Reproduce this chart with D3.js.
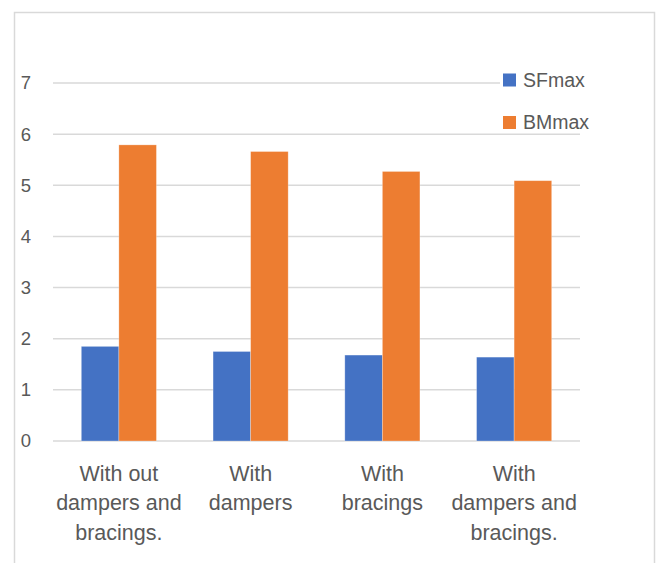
<!DOCTYPE html>
<html>
<head>
<meta charset="utf-8">
<script src="https://cdn.jsdelivr.net/npm/d3@7"></script>
<style>
  html, body { margin: 0; padding: 0; background: #fff; }
  svg { display: block; }
  text { font-family: "Liberation Sans", Arial, sans-serif; fill: #595959; }
</style>
</head>
<body>
<svg id="chart" width="661" height="563"></svg>
<script>
// Categories (each entry is split onto its display lines)
const categories = [
  ["With out", "dampers and", "bracings."],
  ["With", "dampers"],
  ["With", "bracings"],
  ["With", "dampers and", "bracings."]
];
const seriesNames = ["SFmax", "BMmax"];
const sfmax = [1.85, 1.75, 1.68, 1.64];
const bmmax = [5.79, 5.66, 5.27, 5.09];
const yTicks = [0, 1, 2, 3, 4, 5, 6, 7];
const colors = ["#4472C4", "#ED7D31"];

const svg = d3.select("#chart");

// Chart area outline
svg.append("rect")
  .attr("x", 14.5).attr("y", 12.5)
  .attr("width", 640).attr("height", 570)
  .attr("fill", "none").attr("stroke", "#d9d9d9").attr("stroke-width", 1.5);

const plot = { left: 53, right: 580, top: 83, bottom: 441 };

const x0 = d3.scaleBand()
  .domain(d3.range(categories.length))
  .range([plot.left, plot.right])
  .paddingInner(0.43)
  .paddingOuter(0.215);

const x1 = d3.scaleBand()
  .domain(d3.range(seriesNames.length))
  .range([0, x0.bandwidth()]);

const y = d3.scaleLinear().domain([0, 7]).range([plot.bottom, plot.top]);

// Horizontal gridlines
svg.append("g")
  .selectAll("line")
  .data(yTicks)
  .join("line")
  .attr("x1", plot.left).attr("x2", plot.right)
  .attr("y1", d => y(d)).attr("y2", d => y(d))
  .attr("stroke", "#d9d9d9").attr("stroke-width", 1.5);

// Y tick labels
svg.append("g")
  .selectAll("text")
  .data(yTicks)
  .join("text")
  .attr("x", 31)
  .attr("y", d => y(d))
  .attr("dy", "0.35em")
  .attr("text-anchor", "end")
  .style("font-size", "18.5px")
  .text(d => d);

// Bars
const seriesValues = [sfmax, bmmax];
const groups = svg.append("g")
  .selectAll("g")
  .data(categories.map((c, i) => i))
  .join("g")
  .attr("transform", i => `translate(${x0(i)},0)`);

groups.selectAll("rect")
  .data(i => seriesValues.map((vals, s) => ({ s, v: vals[i] })))
  .join("rect")
  .attr("x", d => x1(d.s))
  .attr("width", x1.bandwidth())
  .attr("y", d => y(d.v))
  .attr("height", d => y(0) - y(d.v))
  .attr("fill", d => colors[d.s])
  .attr("stroke", "#ffffff")
  .attr("stroke-opacity", 0.35)
  .attr("stroke-width", 0.75);

// Category labels
const catLabels = svg.append("g")
  .selectAll("text")
  .data(categories)
  .join("text")
  .attr("text-anchor", "middle")
  .attr("x", (d, i) => x0(i) + x0.bandwidth() / 2)
  .attr("y", 480.5)
  .style("font-size", "21.5px");

catLabels.selectAll("tspan")
  .data(d => d)
  .join("tspan")
  .attr("x", function () { return d3.select(this.parentNode).attr("x"); })
  .attr("dy", (d, i) => i === 0 ? 0 : 29.5)
  .text(d => d);

// Legend (white backing hides the top gridline under the entries)
const legend = svg.append("g");
legend.append("rect")
  .attr("x", 500).attr("y", 66).attr("width", 95).attr("height", 65)
  .attr("fill", "#fff");

const items = legend.selectAll("g")
  .data(seriesNames)
  .join("g")
  .attr("transform", (d, i) => `translate(503,${80 + i * 42.5})`);

items.append("rect")
  .attr("x", 0).attr("y", -6.5)
  .attr("width", 13).attr("height", 13)
  .attr("fill", (d, i) => colors[i]);

items.append("text")
  .attr("x", 20)
  .attr("dy", "0.35em")
  .style("font-size", "19.5px")
  .text(d => d);
</script>
</body>
</html>
